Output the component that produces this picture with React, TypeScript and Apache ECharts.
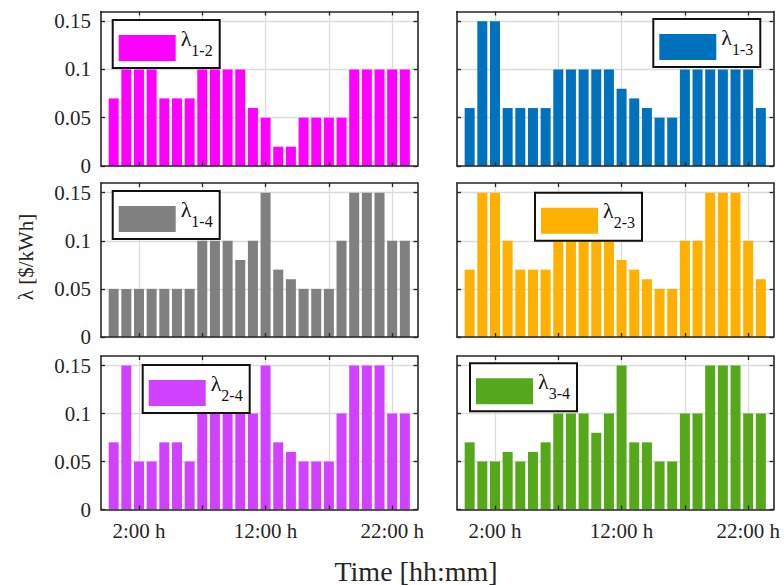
import React, { useEffect, useRef } from 'react';
import * as echarts from 'echarts';

// ---- data ----
const hours = [0, 1, 2, 3, 4, 5, 6, 7, 8, 9, 10, 11, 12, 13, 14, 15, 16, 17, 18, 19, 20, 21, 22, 23];
const tickHours = [2, 7, 12, 17, 22];
const labelHours = [2, 12, 22];
const yTicks = [0, 0.05, 0.1, 0.15];

const seriesNames = ['λ1-2', 'λ1-3', 'λ1-4', 'λ2-3', 'λ2-4', 'λ3-4'];
const lam12 = [0.07, 0.1, 0.1, 0.1, 0.07, 0.07, 0.07, 0.1, 0.1, 0.1, 0.1, 0.06, 0.05, 0.02, 0.02, 0.05, 0.05, 0.05, 0.05, 0.1, 0.1, 0.1, 0.1, 0.1];
const lam13 = [0.06, 0.15, 0.15, 0.06, 0.06, 0.06, 0.06, 0.1, 0.1, 0.1, 0.1, 0.1, 0.08, 0.07, 0.06, 0.05, 0.05, 0.1, 0.1, 0.1, 0.1, 0.1, 0.1, 0.06];
const lam14 = [0.05, 0.05, 0.05, 0.05, 0.05, 0.05, 0.05, 0.1, 0.1, 0.1, 0.08, 0.1, 0.15, 0.07, 0.06, 0.05, 0.05, 0.05, 0.1, 0.15, 0.15, 0.15, 0.1, 0.1];
const lam23 = [0.07, 0.15, 0.15, 0.1, 0.07, 0.07, 0.07, 0.1, 0.1, 0.1, 0.1, 0.1, 0.08, 0.07, 0.06, 0.05, 0.05, 0.1, 0.1, 0.15, 0.15, 0.15, 0.1, 0.06];
const lam24 = [0.07, 0.15, 0.05, 0.05, 0.07, 0.07, 0.05, 0.1, 0.1, 0.1, 0.1, 0.1, 0.15, 0.07, 0.06, 0.05, 0.05, 0.05, 0.1, 0.15, 0.15, 0.15, 0.1, 0.1];
const lam34 = [0.07, 0.05, 0.05, 0.06, 0.05, 0.06, 0.07, 0.1, 0.1, 0.1, 0.08, 0.1, 0.15, 0.07, 0.07, 0.05, 0.05, 0.1, 0.1, 0.15, 0.15, 0.15, 0.1, 0.1];
const allValues = [lam12, lam13, lam14, lam23, lam24, lam34];

const xTitle = 'Time [hh:mm]';
const yTitle = 'λ [$/kWh]';

// ---- styles / layout ----
const FONT = 'Liberation Serif';
const AX = '#262626';
const GRIDC = '#dcdcdc';
const colors = ['#FF00FF', '#0072BD', '#808080', '#FFB000', '#D042FF', '#55A81A'];
const colLeft = [101, 457];
const colWidth = 316.5;
const rowTop = [11.5, 183, 356];
const rowHeight = [154.5, 154, 153.5];
const legendPos = [
  [112.7, 20],
  [653.3, 19],
  [112.7, 191],
  [535, 192.7],
  [142.7, 365],
  [470, 363.3],
];

export default function App() {
  const ref = useRef<HTMLDivElement>(null);
  useEffect(() => {
    const chart = echarts.init(ref.current!, null, { renderer: 'svg' });
    const grid: any[] = [];
    const xAxis: any[] = [];
    const yAxis: any[] = [];
    const series: any[] = [];
    const legend: any[] = [];

    for (let i = 0; i < 6; i++) {
      const r = Math.floor(i / 2);
      const c = i % 2;
      grid.push({
        left: colLeft[c],
        top: rowTop[r],
        width: colWidth,
        height: rowHeight[r],
        show: false,
        containLabel: false,
      });
      const tickStyle = { show: true, inside: true, length: 4, lineStyle: { color: AX, width: 1.3 } };
      const lineStyle = { show: true, onZero: false, lineStyle: { color: AX, width: 1.6 } };
      xAxis.push({
        gridIndex: i,
        type: 'value',
        position: 'bottom',
        min: -1,
        max: 24,
        z: 10,
        axisLine: lineStyle,
        axisTick: { ...tickStyle, customValues: tickHours },
        axisLabel: {
          show: r === 2,
          customValues: labelHours,
          formatter: (v: number) => `${v}:00 h`,
          fontFamily: FONT,
          fontSize: 21,
          color: AX,
          margin: 11,
        },
        splitLine: { show: false },
      });
      xAxis.push({
        gridIndex: i,
        type: 'value',
        position: 'top',
        min: -1,
        max: 24,
        z: 0,
        axisLine: lineStyle,
        axisTick: { ...tickStyle, customValues: tickHours },
        axisLabel: { show: false, customValues: tickHours },
        splitLine: { show: true, lineStyle: { color: GRIDC, width: 1.3 } },
      });
      yAxis.push({
        gridIndex: i,
        type: 'value',
        position: 'left',
        min: 0,
        max: 0.16,
        z: 10,
        axisLine: lineStyle,
        axisTick: { ...tickStyle, customValues: yTicks },
        axisLabel: {
          show: c === 0,
          customValues: yTicks,
          fontFamily: FONT,
          fontSize: 21,
          color: AX,
          margin: 10,
        },
        splitLine: { show: false },
      });
      yAxis.push({
        gridIndex: i,
        type: 'value',
        position: 'right',
        min: 0,
        max: 0.16,
        z: 0,
        axisLine: lineStyle,
        axisTick: { ...tickStyle, customValues: yTicks },
        axisLabel: { show: false, customValues: yTicks },
        splitLine: { show: true, lineStyle: { color: GRIDC, width: 1.3 } },
      });
      series.push({
        type: 'bar',
        name: seriesNames[i],
        xAxisIndex: i * 2,
        yAxisIndex: i * 2,
        barWidth: 10,
        itemStyle: { color: colors[i] },
        data: hours.map((h, k) => [h, allValues[i][k]]),
      });
      legend.push({
        data: [seriesNames[i]],
        left: legendPos[i][0],
        top: legendPos[i][1],
        orient: 'horizontal',
        backgroundColor: '#ffffff',
        borderColor: '#111111',
        borderWidth: 2,
        borderRadius: 0,
        padding: [7, 7, 7, 6],
        itemWidth: 57,
        itemHeight: 26,
        itemGap: 0,
        icon: 'rect',
        selectedMode: false,
        z: 6,
        formatter: (name: string) => `{l|λ}{s|${name.slice(1)}}`,
        textStyle: {
          fontFamily: FONT,
          color: '#111',
          rich: {
            l: { fontFamily: FONT, fontSize: 22, lineHeight: 20, color: '#111', verticalAlign: 'bottom', padding: [0, 0, 9, 0] },
            s: { fontFamily: FONT, fontSize: 16, lineHeight: 14, color: '#111', verticalAlign: 'bottom' },
          },
        },
      });
    }

    chart.setOption({
      animation: false,
      backgroundColor: '#ffffff',
      textStyle: { fontFamily: FONT },
      grid,
      xAxis,
      yAxis,
      series,
      legend,
      graphic: [
        {
          type: 'text',
          x: 26,
          y: 257,
          rotation: Math.PI / 2,
          style: { text: yTitle, fontFamily: FONT, fontSize: 21, fill: AX, align: 'center', verticalAlign: 'middle' },
        },
        {
          type: 'text',
          x: 416,
          y: 571,
          style: { text: xTitle, fontFamily: FONT, fontSize: 28, fill: AX, align: 'center', verticalAlign: 'middle' },
        },
      ],
    });
    return () => chart.dispose();
  }, []);
  return <div ref={ref} style={{ position: 'fixed', left: 0, top: 0, width: 784, height: 585 }} />;
}
